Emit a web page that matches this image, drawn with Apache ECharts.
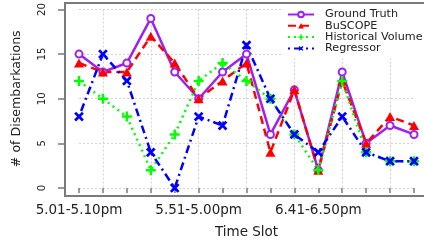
<!DOCTYPE html>
<html>
<head>
<meta charset="utf-8">
<script src="https://cdn.jsdelivr.net/npm/echarts@6/dist/echarts.min.js"></script>
<style>
    html, body {margin: 0; padding: 0; background: #fff;}
    #main {width: 424px; height: 244px;}
</style>
</head>
<body>
<div id="main"></div>
<script>
// time slots (10 minutes each), labels as printed on the chart
const timeSlots = ['5.01-5.10pm', '5.11-5.20pm', '5.21-5.30pm', '5.31-5.40pm', '5.41-5.50pm',
    '5.51-5.00pm', '6.01-6.10pm', '6.11-6.20pm', '6.21-6.30pm', '6.31-6.40pm',
    '6.41-6.50pm', '6.51-7.00pm', '7.01-7.10pm', '7.11-7.20pm', '7.21-7.30pm'];
const groundTruth = [15, 13, 14, 19, 13, 10, 13, 15, 6, 11, 2, 13, 5, 7, 6];
const buscope = [14, 13, 13, 17, 14, 10, 12, 14, 4, 11, 2, 12, 5, 8, 7];
const historicalVolume = [12, 10, 8, 2, 6, 12, 14, 12, 10, 6, 2, 12, 4, 3, 3];
const regressor = [8, 15, 12, 4, 0, 8, 7, 16, 10, 6, 4, 8, 4, 3, 3];
const yTicks = [0, 5, 10, 15, 20];

const crossPath = 'path://M3.75,0H6.25V3.75H10V6.25H6.25V10H3.75V6.25H0V3.75H3.75Z';
const frameColor = '#7a7a7a';
const textColor = '#222';

let myChart = echarts.init(document.getElementById('main'));

let option = {
    animation: false,
    textStyle: {fontFamily: 'DejaVu Sans, sans-serif'},
    grid: {left: 79, right: 10, top: 9, bottom: 55},
    legend: {
        orient: 'vertical',
        left: 283,
        top: 5,
        padding: [4, 10, 4, 4],
        backgroundColor: '#fff',
        itemWidth: 26,
        itemHeight: 7,
        itemGap: 0.3,
        textStyle: {fontSize: 11.2, color: textColor, lineHeight: 11, padding: [0, 0, 0, 6]},
        data: ['Ground Truth', 'BuSCOPE', 'Historical Volume', 'Regressor']
    },
    xAxis: {
        type: 'category',
        data: timeSlots,
        boundaryGap: false,
        offset: 7,
        name: 'Time Slot',
        nameLocation: 'middle',
        nameGap: 30,
        nameTextStyle: {fontSize: 13.5, color: textColor},
        axisLine: {show: false},
        axisTick: {show: true, interval: 0, length: 5, lineStyle: {color: frameColor, width: 1.5}},
        axisLabel: {interval: 4, fontSize: 13.5, color: textColor, margin: 8},
        splitLine: {
            show: true,
            interval: function (index) {
                return index % 2 === 1;
            },
            lineStyle: {color: '#d4d4d4', type: [2, 2], width: 1}
        }
    },
    yAxis: {
        type: 'value',
        min: yTicks[0],
        max: yTicks[yTicks.length - 1],
        interval: 5,
        offset: 14,
        name: '# of Disembarkations',
        nameLocation: 'middle',
        nameRotate: 90,
        nameGap: 42,
        nameTextStyle: {fontSize: 12.6, color: textColor},
        axisLine: {show: false},
        axisTick: {show: true, length: 7, lineStyle: {color: frameColor, width: 1.5}},
        axisLabel: {rotate: 90, fontSize: 10.2, color: textColor, margin: 18},
        splitLine: {lineStyle: {color: '#d4d4d4', type: [2, 2], width: 1}}
    },
    graphic: [{
        type: 'polyline',
        z: 100,
        silent: true,
        shape: {points: [[424, 3], [65, 3], [65, 196], [424, 196]]},
        style: {stroke: frameColor, lineWidth: 2, fill: null}
    }],
    series: [
        {
            name: 'Ground Truth',
            type: 'line',
            data: groundTruth,
            symbol: 'emptyCircle',
            symbolSize: 7,
            lineStyle: {color: '#a020f0', width: 2.5, type: 'solid'},
            itemStyle: {color: '#a020f0', borderWidth: 2}
        },
        {
            name: 'BuSCOPE',
            type: 'line',
            data: buscope,
            symbol: 'triangle',
            symbolSize: [10, 9],
            lineStyle: {color: '#ff0000', width: 2.5, type: [8, 5]},
            itemStyle: {color: '#ff0000'}
        },
        {
            name: 'Historical Volume',
            type: 'line',
            data: historicalVolume,
            symbol: crossPath,
            symbolSize: 10,
            lineStyle: {color: '#00ff00', width: 2.5, type: [2, 4]},
            itemStyle: {color: '#00ff00'}
        },
        {
            name: 'Regressor',
            type: 'line',
            data: regressor,
            symbol: crossPath,
            symbolSize: 11,
            symbolRotate: 45,
            lineStyle: {color: '#0000ff', width: 2.5, type: [2, 4, 8, 4]},
            itemStyle: {color: '#0000ff'}
        }
    ]
};
myChart.setOption(option);
</script>
</body>
</html>
